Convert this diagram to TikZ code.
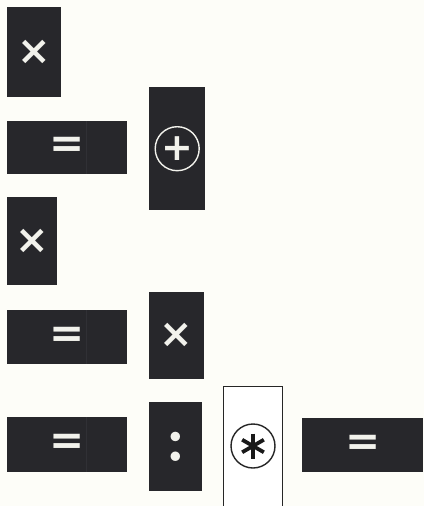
\documentclass[tikz,border=0pt]{standalone}
\usepackage{fontspec}
\newfontfamily\symfont{DejaVu Sans}
\definecolor{tiledark}{HTML}{27272B}
\definecolor{symwhite}{HTML}{F2F2EC}
\definecolor{paper}{HTML}{FDFDF8}
\definecolor{seam}{HTML}{303035}
\begin{document}
\begin{tikzpicture}[x=1pt,y=-1pt,
  tile/.style={fill=tiledark, draw=none, inner sep=0pt, anchor=north west, text=symwhite},
  timesym/.style={font=\symfont\bfseries\fontsize{40}{40}\selectfont},
  eqsym/.style={font=\symfont\bfseries\fontsize{42}{42}\selectfont},
  colsym/.style={font=\rmfamily\bfseries\fontsize{66}{66}\selectfont},
  plussym/.style={font=\symfont\bfseries\fontsize{38}{38}\selectfont},
  seamline/.style={draw=seam, line width=1pt},
  ring/.style={line width=1.4pt},
]
\fill[paper] (0,0) rectangle (424,506);
\useasboundingbox (0,0) rectangle (424,506);
% left column
\node[tile, minimum width=54, minimum height=90] (t1) at (7,7) {};
\node[timesym, text=symwhite] (x1) at (t1.center) {×};
\node[tile, minimum width=120, minimum height=53] (e1) at (7,121) {};
\draw[seamline] (86,121) -- (86,174);
\node[eqsym, text=symwhite] (q1) at (67,147) {=};
\node[tile, minimum width=50, minimum height=88] (t2) at (7,197) {};
\node[timesym, text=symwhite] (x2) at (t2.center) {×};
\node[tile, minimum width=120, minimum height=54] (e2) at (7,310) {};
\draw[seamline] (86,310) -- (86,364);
\node[eqsym, text=symwhite] (q2) at (67,337) {=};
\node[tile, minimum width=120, minimum height=55] (e3) at (7,417) {};
\draw[seamline] (86,417) -- (86,472);
\node[eqsym, text=symwhite] (q3) at (67,444) {=};
% middle column
\node[tile, minimum width=56, minimum height=123] (p1) at (149,87) {};
\draw[ring, symwhite] (p1.center) circle (22);
\node[plussym, text=symwhite] (pl) at (p1.center) {+};
\node[tile, minimum width=55, minimum height=87] (t3) at (149,292) {};
\node[timesym, text=symwhite] (x3) at (t3.center) {×};
\node[tile, minimum width=53, minimum height=89] (d1) at (149,402) {};
\node[colsym, text=symwhite] (c1) at (d1.center) {:};
% white tile with circled asterisk
\node[draw=black!85, line width=0.8pt, fill=white, inner sep=0pt, anchor=north west,
      minimum width=59, minimum height=121] (a1) at (223,386) {};
\draw[ring, black!85] (253,446) circle (22);
\coordinate (ac) at (253,446);
\foreach \ang in {90,30,150}{
  \draw[line width=3.8pt, black!90] (ac) ++(\ang:-12.5) -- ++(\ang:25);
}
% right wide tile
\node[tile, minimum width=121, minimum height=54] (e4) at (302,418) {};
\node[eqsym, text=symwhite] (q4) at (e4.center) {=};
\end{tikzpicture}
\end{document}
